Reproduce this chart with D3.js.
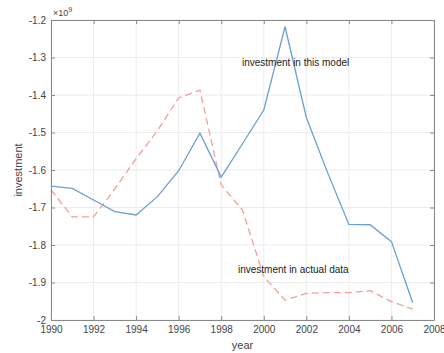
<!DOCTYPE html>
<html lang="en">
<head>
	<meta charset="UTF-8">
	<title>investment</title>
	<script src="https://d3js.org/d3.v7.min.js"></script>
	<style>
		body { margin: 0; background: #fff; }
		svg { display: block; font-family: "Liberation Sans", Arial, sans-serif; }
		.grid line { stroke: #ececec; stroke-width: 1; }
		.tick text { fill: #444; font-size: 10px; }
	</style>
</head>
<body>
<script>
	var years = [1990, 1991, 1992, 1993, 1994, 1995, 1996, 1997, 1998, 1999,
		2000, 2001, 2002, 2003, 2004, 2005, 2006, 2007];
	// values in units of 1e9
	var model = [-1.643, -1.649, -1.68, -1.711, -1.72, -1.671, -1.602, -1.502, -1.619, -1.53,
		-1.44, -1.218, -1.46, -1.607, -1.745, -1.746, -1.791, -1.954];
	var actual = [-1.653, -1.725, -1.725, -1.65, -1.57, -1.495, -1.408, -1.387, -1.64, -1.707,
		-1.884, -1.947, -1.929, -1.927, -1.927, -1.922, -1.951, -1.971];
	var xTicks = [1990, 1992, 1994, 1996, 1998, 2000, 2002, 2004, 2006, 2008];
	var yTicks = [-2, -1.9, -1.8, -1.7, -1.6, -1.5, -1.4, -1.3, -1.2];

	var width = 444, height = 353;
	var mLeft = 51, mTop = 20, mRight = 434, mBottom = 320;

	var x = d3.scaleLinear().domain([1990, 2008]).range([mLeft, mRight]);
	var y = d3.scaleLinear().domain([-2, -1.2]).range([mBottom, mTop]);

	var svg = d3.select("body").append("svg")
		.attr("width", width)
		.attr("height", height);

	// grid
	var grid = svg.append("g").attr("class", "grid");
	grid.selectAll(".gx").data(xTicks).enter().append("line")
		.attr("x1", function (d) { return x(d); })
		.attr("x2", function (d) { return x(d); })
		.attr("y1", mTop).attr("y2", mBottom);
	grid.selectAll(".gy").data(yTicks).enter().append("line")
		.attr("y1", function (d) { return y(d); })
		.attr("y2", function (d) { return y(d); })
		.attr("x1", mLeft).attr("x2", mRight);

	var line = d3.line()
		.x(function (d, i) { return x(years[i]); })
		.y(function (d) { return y(d); });

	svg.append("path")
		.datum(actual)
		.attr("fill", "none")
		.attr("stroke", "#f0a09a")
		.attr("stroke-width", 1.3)
		.attr("stroke-dasharray", "7,4")
		.attr("d", line);

	svg.append("path")
		.datum(model)
		.attr("fill", "none")
		.attr("stroke", "#6c9fd2")
		.attr("stroke-width", 1.3)
		.attr("d", line);

	// axes (box with inward ticks)
	var fmt = function (d) { return String(+d.toFixed(1)); };
	var axStyle = function (g) {
		g.selectAll(".domain").attr("stroke", "#888");
		g.selectAll(".tick line").attr("stroke", "#888");
	};
	svg.append("g")
		.attr("transform", "translate(0," + mBottom + ")")
		.call(d3.axisBottom(x).tickValues(xTicks).tickFormat(d3.format("d")).tickSizeInner(-4).tickSizeOuter(0).tickPadding(6))
		.call(axStyle);
	svg.append("g")
		.attr("transform", "translate(0," + mTop + ")")
		.call(d3.axisTop(x).tickValues(xTicks).tickFormat("").tickSizeInner(-4).tickSizeOuter(0))
		.call(axStyle);
	svg.append("g")
		.attr("transform", "translate(" + mLeft + ",0)")
		.call(d3.axisLeft(y).tickValues(yTicks).tickFormat(fmt).tickSizeInner(-4).tickSizeOuter(0).tickPadding(5))
		.call(axStyle);
	svg.append("g")
		.attr("transform", "translate(" + mRight + ",0)")
		.call(d3.axisRight(y).tickValues(yTicks).tickFormat("").tickSizeInner(-4).tickSizeOuter(0))
		.call(axStyle);

	// exponent
	var ex = svg.append("text")
		.attr("x", 53).attr("y", 16)
		.attr("fill", "#444").attr("font-size", 9);
	ex.append("tspan").text("\u00d710");
	ex.append("tspan").attr("dy", -4).attr("font-size", 7).text("9");

	// axis labels
	svg.append("text")
		.attr("x", x(1999)).attr("y", 349)
		.attr("text-anchor", "middle")
		.attr("fill", "#444").attr("font-size", 11)
		.text("year");
	svg.append("text")
		.attr("transform", "translate(22," + y(-1.6) + ") rotate(-90)")
		.attr("text-anchor", "middle")
		.attr("fill", "#444").attr("font-size", 11)
		.text("investment");

	// annotations
	svg.append("text")
		.attr("x", 242).attr("y", 66)
		.attr("fill", "#222").attr("font-size", 10)
		.text("investment in this model");
	svg.append("text")
		.attr("x", 238).attr("y", 273)
		.attr("fill", "#222").attr("font-size", 10)
		.text("investment in actual data");
</script>
</body>
</html>
